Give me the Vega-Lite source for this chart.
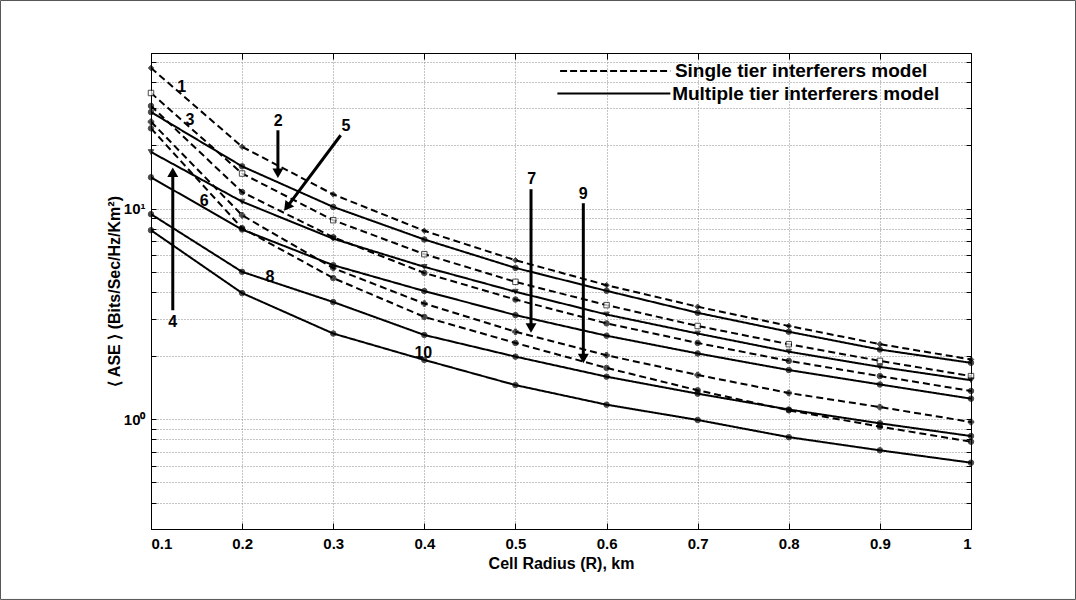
{
  "$schema": "https://vega.github.io/schema/vega-lite/v6.json",
  "width": 820,
  "height": 476,
  "autosize": {"type": "none"},
  "padding": {"left": 151, "top": 53, "right": 105, "bottom": 71},
  "background": "white",
  "config": {
    "font": "Liberation Sans",
    "view": {"stroke": "black", "strokeWidth": 1},
    "axis": {
      "labelFont": "Liberation Sans", "labelFontWeight": "bold", "labelFontSize": 15, "labelColor": "black",
      "titleFont": "Liberation Sans", "titleFontWeight": "bold", "titleFontSize": 16, "titleColor": "black",
      "domainColor": "black", "tickColor": "black", "tickWidth": 1,
      "gridColor": "#8a8a8a", "gridDash": [1, 2], "gridOpacity": 1, "gridWidth": 1,
      "labelOverlap": false
    }
  },
  "datasets": {
    "curves": [
      {"r": 0.1, "D1": 46.7, "D2": 35.5, "D3": 30.8, "D4": 25.9, "D5": 24.1, "S1": 28.8, "S2": 18.6, "S3": 14.1, "S4": 9.42, "S5": 7.9},
      {"r": 0.2, "D1": 19.7, "D2": 14.7, "D3": 12.0, "D4": 9.31, "D5": 8.08, "S1": 15.9, "S2": 10.8, "S3": 7.96, "S4": 5.01, "S5": 3.97},
      {"r": 0.3, "D1": 11.7, "D2": 8.82, "D3": 7.32, "D4": 5.22, "D5": 4.68, "S1": 10.2, "S2": 7.2, "S3": 5.39, "S4": 3.6, "S5": 2.55},
      {"r": 0.4, "D1": 7.85, "D2": 6.08, "D3": 4.95, "D4": 3.54, "D5": 3.06, "S1": 7.14, "S2": 5.29, "S3": 4.06, "S4": 2.51, "S5": 1.91},
      {"r": 0.5, "D1": 5.69, "D2": 4.49, "D3": 3.7, "D4": 2.6, "D5": 2.3, "S1": 5.23, "S2": 4.03, "S3": 3.12, "S4": 1.98, "S5": 1.45},
      {"r": 0.6, "D1": 4.33, "D2": 3.48, "D3": 2.85, "D4": 2.01, "D5": 1.75, "S1": 4.07, "S2": 3.14, "S3": 2.49, "S4": 1.59, "S5": 1.17},
      {"r": 0.7, "D1": 3.42, "D2": 2.77, "D3": 2.3, "D4": 1.62, "D5": 1.37, "S1": 3.2, "S2": 2.55, "S3": 2.05, "S4": 1.32, "S5": 0.99},
      {"r": 0.8, "D1": 2.77, "D2": 2.27, "D3": 1.89, "D4": 1.33, "D5": 1.1, "S1": 2.6, "S2": 2.09, "S3": 1.71, "S4": 1.11, "S5": 0.82},
      {"r": 0.9, "D1": 2.27, "D2": 1.89, "D3": 1.6, "D4": 1.14, "D5": 0.92, "S1": 2.14, "S2": 1.77, "S3": 1.46, "S4": 0.954, "S5": 0.71},
      {"r": 1.0, "D1": 1.92, "D2": 1.6, "D3": 1.36, "D4": 0.968, "D5": 0.78, "S1": 1.85, "S2": 1.53, "S3": 1.25, "S4": 0.83, "S5": 0.62}
    ],
    "notes": [
      {"t": "1", "r": 0.1337, "v": 37.9},
      {"t": "3", "r": 0.1428, "v": 26.3},
      {"t": "6", "r": 0.1585, "v": 10.9},
      {"t": "2", "r": 0.2397, "v": 26.0},
      {"t": "5", "r": 0.314, "v": 24.7},
      {"t": "4", "r": 0.1239, "v": 2.89},
      {"t": "8", "r": 0.2306, "v": 4.74},
      {"t": "10", "r": 0.3989, "v": 2.05},
      {"t": "7", "r": 0.5178, "v": 13.92},
      {"t": "9", "r": 0.5745, "v": 11.72}
    ],
    "arrows": [
      {"id": "2", "r": 0.2393, "v": 23.6, "r2": 0.2393, "v2": 14.75, "dir": 180},
      {"id": "5", "r": 0.3082, "v": 22.35, "r2": 0.2492, "v2": 10.18, "dir": 217},
      {"id": "4", "r": 0.1239, "v": 3.29, "r2": 0.1239, "v2": 14.91, "dir": 0},
      {"id": "7", "r": 0.5171, "v": 12.38, "r2": 0.5171, "v2": 2.71, "dir": 180},
      {"id": "9", "r": 0.5745, "v": 10.62, "r2": 0.5745, "v2": 1.94, "dir": 180}
    ],
    "frame": [
      {"r": -0.0652, "r2": 1.1147, "v": 97.7, "v2": 0.1387}
    ]
  },
  "layer": [
    {
      "data": {"name": "curves"},
      "transform": [{"fold": ["D1", "D2", "D3", "D4", "D5", "S1", "S2", "S3", "S4", "S5"], "as": ["curve", "ase"]}],
      "mark": {"type": "line", "color": "black", "strokeWidth": 2, "clip": true},
      "encoding": {
        "x": {
          "field": "r", "type": "quantitative",
          "scale": {"domain": [0.1, 1], "nice": false, "zero": false},
          "axis": {
            "orient": "bottom", "values": [0.1, 0.2, 0.3, 0.4, 0.5, 0.6, 0.7, 0.8, 0.9, 1], "format": "~g",
            "title": "Cell Radius (R), km", "grid": true, "tickSize": -6, "labelPadding": 13, "titlePadding": 4
          }
        },
        "y": {
          "field": "ase", "type": "quantitative",
          "scale": {"type": "log", "domain": [0.3, 55], "nice": false},
          "axis": {
            "orient": "left",
            "values": [0.4, 0.5, 0.6, 0.7, 0.8, 0.9, 1, 2, 3, 4, 5, 6, 7, 8, 9, 10, 20, 30, 40, 50],
            "labelExpr": "datum.value == 1 ? '10⁰' : datum.value == 10 ? '10¹' : ''",
            "title": "⟨ ASE ⟩ (Bits/Sec/Hz/Km²)", "grid": true, "tickSize": -5, "labelPadding": 11, "titlePadding": 1
          }
        },
        "detail": {"field": "curve"},
        "strokeDash": {
          "field": "curve", "type": "nominal",
          "scale": {
            "domain": ["D1", "D2", "D3", "D4", "D5", "S1", "S2", "S3", "S4", "S5"],
            "range": [[7, 4], [7, 4], [7, 4], [7, 4], [7, 4], [1, 0], [1, 0], [1, 0], [1, 0], [1, 0]]
          },
          "legend": null
        }
      }
    },
    {
      "data": {"name": "curves"},
      "transform": [{"fold": ["D1", "D2", "D3", "D4", "D5", "S1", "S2", "S3", "S4", "S5"], "as": ["curve", "ase"]}],
      "mark": {"type": "point", "filled": true, "stroke": "black", "strokeWidth": 1, "clip": false},
      "encoding": {
        "x": {
          "field": "r", "type": "quantitative",
          "axis": {"orient": "top", "values": [0.1, 0.2, 0.3, 0.4, 0.5, 0.6, 0.7, 0.8, 0.9, 1], "labels": false, "grid": false, "title": null, "tickSize": -6}
        },
        "y": {
          "field": "ase", "type": "quantitative",
          "axis": {"orient": "right", "values": [0.4, 0.5, 0.6, 0.7, 0.8, 0.9, 1, 2, 3, 4, 5, 6, 7, 8, 9, 10, 20, 30, 40, 50], "labels": false, "grid": false, "title": null, "tickSize": -5}
        },
        "shape": {
          "field": "curve", "type": "nominal",
          "scale": {
            "domain": ["D1", "D2", "D3", "D4", "D5", "S1", "S2", "S3", "S4", "S5"],
            "range": ["diamond", "square", "circle", "cross", "circle", "circle", "triangle-down", "circle", "circle", "circle"]
          },
          "legend": null
        },
        "fill": {
          "field": "curve", "type": "nominal",
          "scale": {
            "domain": ["D1", "D2", "D3", "D4", "D5", "S1", "S2", "S3", "S4", "S5"],
            "range": ["black", "white", "black", "black", "black", "black", "black", "black", "black", "black"]
          },
          "legend": null
        },
        "size": {
          "field": "curve", "type": "nominal",
          "scale": {
            "domain": ["D1", "D2", "D3", "D4", "D5", "S1", "S2", "S3", "S4", "S5"],
            "range": [30, 30, 25, 22, 12, 12, 45, 45, 10, 10]
          },
          "legend": null
        }
      }
    },
    {
      "data": {"name": "arrows"},
      "mark": {"type": "rule", "color": "black", "strokeWidth": 3},
      "encoding": {
        "x": {"field": "r", "type": "quantitative", "axis": null},
        "y": {"field": "v", "type": "quantitative", "axis": null},
        "x2": {"field": "r2"},
        "y2": {"field": "v2"}
      }
    },
    {
      "data": {"name": "arrows"},
      "mark": {"type": "point", "shape": "triangle-up", "filled": true, "color": "black", "size": 120, "opacity": 1},
      "encoding": {
        "x": {"field": "r2", "type": "quantitative", "axis": null},
        "y": {"field": "v2", "type": "quantitative", "axis": null},
        "angle": {"field": "dir", "type": "quantitative", "scale": null}
      }
    },
    {
      "data": {"name": "notes"},
      "mark": {"type": "text", "font": "Liberation Sans", "fontWeight": "bold", "fontSize": 16, "color": "black", "align": "center", "baseline": "middle"},
      "encoding": {
        "x": {"field": "r", "type": "quantitative", "axis": null},
        "y": {"field": "v", "type": "quantitative", "axis": null},
        "text": {"field": "t"}
      }
    },
    {
      "data": {"values": [{"r": 0.549, "r2": 0.67, "v": 45.2}]},
      "mark": {"type": "rule", "color": "black", "strokeWidth": 2, "strokeDash": [7, 3]},
      "encoding": {
        "x": {"field": "r", "type": "quantitative", "axis": null},
        "x2": {"field": "r2"},
        "y": {"field": "v", "type": "quantitative", "axis": null}
      }
    },
    {
      "data": {"values": [{"r": 0.546, "r2": 0.67, "v": 35.3}]},
      "mark": {"type": "rule", "color": "black", "strokeWidth": 2},
      "encoding": {
        "x": {"field": "r", "type": "quantitative", "axis": null},
        "x2": {"field": "r2"},
        "y": {"field": "v", "type": "quantitative", "axis": null}
      }
    },
    {
      "data": {"values": [{"label": "Single tier interferers model", "r": 0.675, "v": 45.2}, {"label": "Multiple tier interferers model", "r": 0.672, "v": 35.3}]},
      "mark": {"type": "text", "font": "Liberation Sans", "fontWeight": "bold", "fontSize": 19, "color": "black", "align": "left", "baseline": "middle"},
      "encoding": {
        "x": {"field": "r", "type": "quantitative", "axis": null},
        "y": {"field": "v", "type": "quantitative", "axis": null},
        "text": {"field": "label"}
      }
    },
    {
      "data": {"name": "frame"},
      "mark": {"type": "rect", "fill": null, "stroke": "#555555", "strokeWidth": 1, "clip": false},
      "encoding": {
        "x": {"field": "r", "type": "quantitative", "axis": null},
        "x2": {"field": "r2"},
        "y": {"field": "v", "type": "quantitative", "axis": null},
        "y2": {"field": "v2"}
      }
    }
  ],
  "resolve": {"axis": {"x": "independent", "y": "independent"}}
}
